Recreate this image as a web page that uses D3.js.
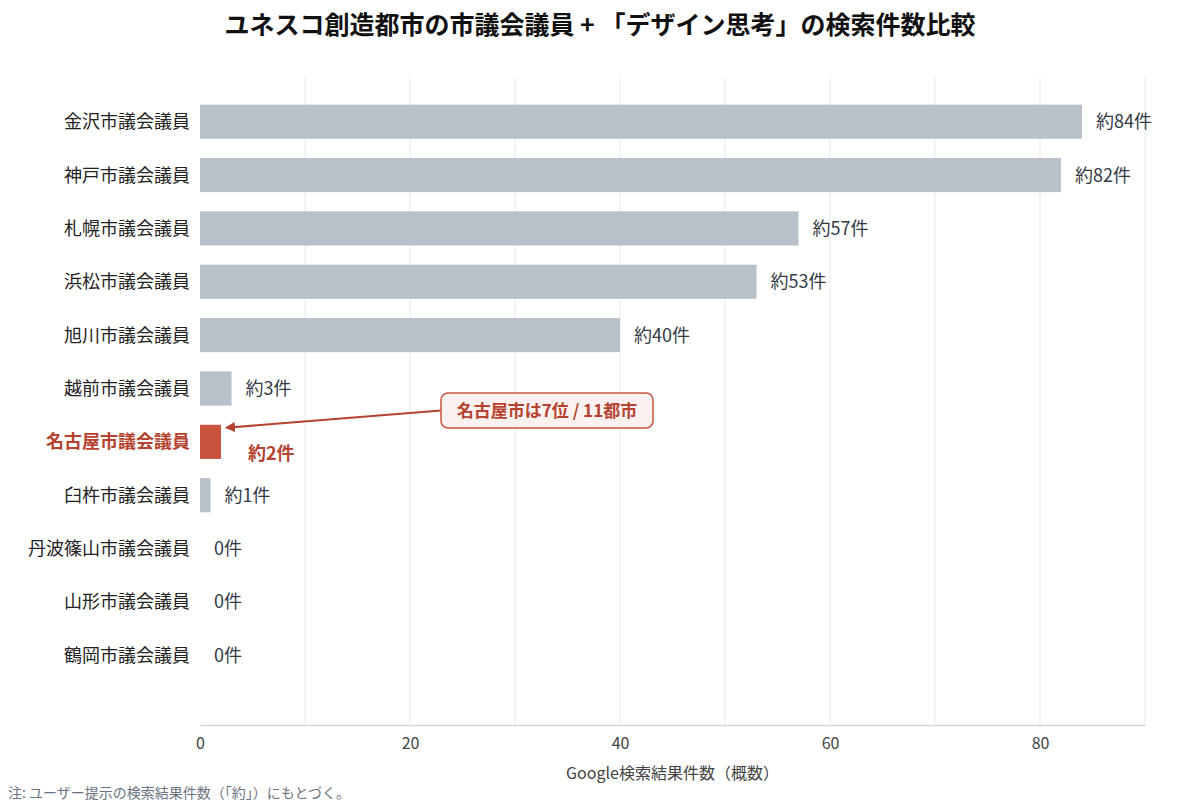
<!DOCTYPE html>
<html lang="ja">
<head>
<meta charset="UTF-8">
<script src="https://d3js.org/d3.v7.min.js"></script>
<style>
  body { margin: 0; background: #fff; }
  svg { display: block; font-family: "Noto Sans CJK JP", "Noto Sans", sans-serif; }
</style>
</head>
<body>
<div id="chart"></div>
<script>
// データ
const cities = ["金沢市議会議員", "神戸市議会議員", "札幌市議会議員", "浜松市議会議員", "旭川市議会議員",
  "越前市議会議員", "名古屋市議会議員", "臼杵市議会議員", "丹波篠山市議会議員", "山形市議会議員", "鶴岡市議会議員"];
const counts = [84, 82, 57, 53, 40, 3, 2, 1, 0, 0, 0];
const labels = ["約84件", "約82件", "約57件", "約53件", "約40件", "約3件", "約2件", "約1件", "0件", "0件", "0件"];
const xTicks = [0, 20, 40, 60, 80];
const highlight = "名古屋市議会議員";

const width = 1200, height = 812;
const margin = { top: 78, right: 55, bottom: 87, left: 200 };

const svg = d3.select("#chart").append("svg")
  .attr("width", width).attr("height", height);

const x = d3.scaleLinear().domain([0, 90]).range([margin.left, width - margin.right]);
const y = d3.scaleBand().domain(cities).range([95, 682]).paddingInner(0.36).paddingOuter(0.18);

// タイトル
svg.append("text")
  .attr("x", width / 2).attr("y", 34)
  .attr("text-anchor", "middle")
  .attr("font-size", 25).attr("font-weight", "bold").attr("fill", "#111")
  .text("ユネスコ創造都市の市議会議員 + 「デザイン思考」の検索件数比較");

// グリッド
svg.append("g").selectAll("line")
  .data(d3.range(10, 91, 10))
  .join("line")
  .attr("x1", d => x(d)).attr("x2", d => x(d))
  .attr("y1", margin.top).attr("y2", height - margin.bottom)
  .attr("stroke", "#e6e8ec").attr("stroke-width", 1);

// x軸
const xAxis = svg.append("g")
  .attr("transform", `translate(0,${height - margin.bottom})`)
  .call(d3.axisBottom(x).tickValues(xTicks).tickSize(0).tickPadding(13));
xAxis.select(".domain").attr("stroke", "#d3d7dc").attr("stroke-width", 1.5);
xAxis.selectAll("text").attr("font-size", 16).attr("fill", "#444")
  .attr("font-family", "\"Noto Sans CJK JP\", sans-serif");

svg.append("text")
  .attr("x", (margin.left + width - margin.right) / 2).attr("y", 779)
  .attr("text-anchor", "middle").attr("font-size", 16).attr("fill", "#444")
  .text("Google検索結果件数（概数）");

svg.append("text")
  .attr("x", 8).attr("y", 798)
  .attr("font-size", 14).attr("fill", "#6b7380")
  .text("注: ユーザー提示の検索結果件数（「約」）にもとづく。");

// y軸ラベル
svg.append("g").selectAll("text")
  .data(cities)
  .join("text")
  .attr("x", margin.left - 10)
  .attr("y", d => y(d) + y.bandwidth() / 2)
  .attr("dy", "0.36em")
  .attr("text-anchor", "end")
  .attr("font-size", 18)
  .attr("font-weight", d => d === highlight ? "bold" : "normal")
  .attr("fill", d => d === highlight ? "#b5432f" : "#222")
  .text(d => d);

// バー
const data = cities.map((c, i) => ({ city: c, value: counts[i], label: labels[i] }));

svg.append("g").selectAll("rect")
  .data(data)
  .join("rect")
  .attr("x", x(0))
  .attr("y", d => y(d.city))
  .attr("width", d => x(d.value) - x(0))
  .attr("height", y.bandwidth())
  .attr("fill", d => d.city === highlight ? "#c9533f" : "#b8c0ca");

// 値ラベル
svg.append("g").selectAll("text")
  .data(data)
  .join("text")
  .attr("x", d => x(d.value) + (d.city === highlight ? 27 : 14))
  .attr("y", d => y(d.city) + y.bandwidth() / 2 + (d.city === highlight ? 12 : 0))
  .attr("dy", "0.36em")
  .attr("font-size", 18)
  .attr("font-weight", d => d.city === highlight ? "bold" : "normal")
  .attr("fill", d => d.city === highlight ? "#b5432f" : "#333a45")
  .text(d => d.label);

// 注釈
const hi = data.find(d => d.city === highlight);
const boxX = 441, boxY = 393, boxW = 212, boxH = 35;

svg.append("defs").append("marker")
  .attr("id", "arrow").attr("viewBox", "0 0 10 10")
  .attr("refX", 9).attr("refY", 5)
  .attr("markerWidth", 5).attr("markerHeight", 5)
  .attr("orient", "auto")
  .append("path").attr("d", "M0,0 L10,5 L0,10 Z").attr("fill", "#b5432f");

svg.append("line")
  .attr("x1", boxX).attr("y1", boxY + boxH / 2)
  .attr("x2", x(hi.value) + 5).attr("y2", y(hi.city) + 3)
  .attr("stroke", "#b5432f").attr("stroke-width", 2)
  .attr("marker-end", "url(#arrow)");

svg.append("rect")
  .attr("x", boxX).attr("y", boxY)
  .attr("width", boxW).attr("height", boxH)
  .attr("rx", 7)
  .attr("fill", "#fdf1ef").attr("stroke", "#c9533f").attr("stroke-width", 1.5);

svg.append("text")
  .attr("x", boxX + boxW / 2).attr("y", boxY + boxH / 2)
  .attr("dy", "0.36em")
  .attr("text-anchor", "middle")
  .attr("font-size", 17).attr("font-weight", "bold").attr("fill", "#b5432f")
  .text("名古屋市は7位 / 11都市");
</script>
</body>
</html>
